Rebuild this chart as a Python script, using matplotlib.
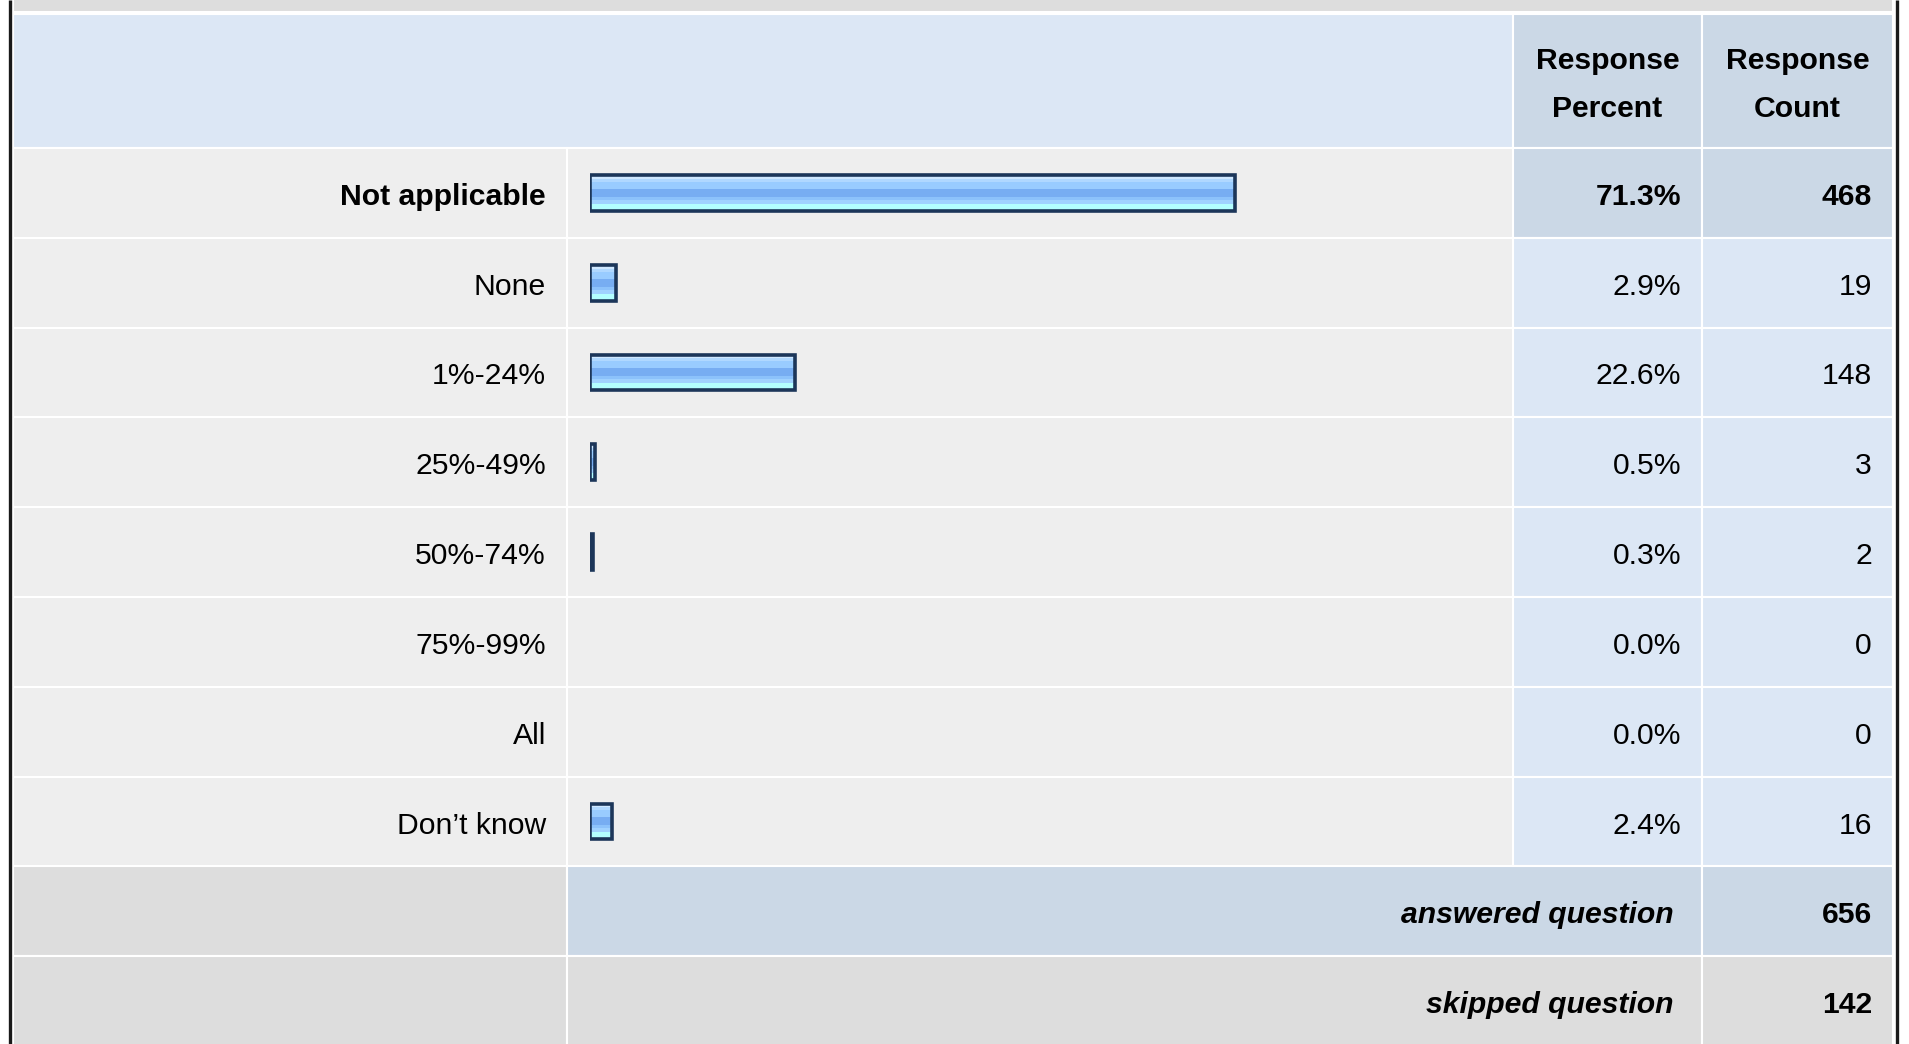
import matplotlib
matplotlib.use('Agg')
import matplotlib.pyplot as plt
from matplotlib.patches import Rectangle
from matplotlib.colors import to_rgb
import numpy as np

plt.rcParams['font.family'] = ['Liberation Sans', 'DejaVu Sans']

answer_options = ['Not applicable', 'None', '1%-24%', '25%-49%', '50%-74%',
                  '75%-99%', 'All', 'Don\u2019t know']
response_percent = [71.3, 2.9, 22.6, 0.5, 0.3, 0.0, 0.0, 2.4]
response_count = [468, 19, 148, 3, 2, 0, 0, 16]
answered_question = 656
skipped_question = 142

W, H = 1909, 1044
fig = plt.figure(figsize=(W / 100, H / 100), dpi=100)
ax = fig.add_axes([0, 0, 1, 1])
ax.set_xlim(0, W)
ax.set_ylim(H, 0)
ax.axis('off')

# table geometry in pixels
x_left, x_lab, x_pct, x_cnt, x_right = 13, 567, 1513, 1702, 1893
y_head, y_body, row_h = 14, 148, 89.8
n = len(answer_options)

c_head = '#dce7f5'
c_dark = '#cbd8e6'
c_cell = '#eeeeee'
c_gray = '#dddddd'
fs = 21.7
dy = 4


def cell(x0, x1, y0, y1, color):
    ax.add_patch(Rectangle((x0, y0), x1 - x0, y1 - y0, facecolor=color,
                           edgecolor='white', lw=1.5))


# top strip and header
cell(x_left, x_right, -10, 12, c_gray)
cell(x_left, x_pct, y_head, y_body, c_head)
cell(x_pct, x_cnt, y_head, y_body, c_dark)
cell(x_cnt, x_right, y_head, y_body, c_dark)
ax.text((x_pct + x_cnt) / 2, (y_head + y_body) / 2 + 4, 'Response\nPercent',
        ha='center', va='center', fontsize=fs, fontweight='bold', linespacing=1.9)
ax.text((x_cnt + x_right) / 2, (y_head + y_body) / 2 + 4, 'Response\nCount',
        ha='center', va='center', fontsize=fs, fontweight='bold', linespacing=1.9)

top_idx = int(np.argmax(response_percent))
for i, (lab, p, c) in enumerate(zip(answer_options, response_percent, response_count)):
    y0 = y_body + i * row_h
    y1 = y0 + row_h
    yc = (y0 + y1) / 2 + dy
    side = c_dark if i == top_idx else c_head
    fw = 'bold' if i == top_idx else 'normal'
    cell(x_left, x_lab, y0, y1, c_cell)
    cell(x_lab, x_pct, y0, y1, c_cell)
    cell(x_pct, x_cnt, y0, y1, side)
    cell(x_cnt, x_right, y0, y1, side)
    ax.text(546, yc, lab, ha='right', va='center', fontsize=fs, fontweight=fw)
    ax.text(1681, yc, '%.1f%%' % p, ha='right', va='center', fontsize=fs, fontweight=fw)
    ax.text(1872, yc, str(c), ha='right', va='center', fontsize=fs, fontweight=fw)

# summary rows
y0 = y_body + n * row_h
cell(x_left, x_lab, y0, y0 + row_h, c_gray)
cell(x_lab, x_cnt, y0, y0 + row_h, c_dark)
cell(x_cnt, x_right, y0, y0 + row_h, c_dark)
ax.text(1674, y0 + row_h / 2 + dy, 'answered question', ha='right', va='center',
        fontsize=fs, fontweight='bold', style='italic')
ax.text(1872, y0 + row_h / 2 + dy, str(answered_question), ha='right', va='center',
        fontsize=fs, fontweight='bold')
y0 += row_h
cell(x_left, x_lab, y0, y0 + row_h + 20, c_gray)
cell(x_lab, x_cnt, y0, y0 + row_h + 20, c_gray)
cell(x_cnt, x_right, y0, y0 + row_h + 20, c_gray)
ax.text(1674, y0 + row_h / 2 + dy, 'skipped question', ha='right', va='center',
        fontsize=fs, fontweight='bold', style='italic')
ax.text(1872, y0 + row_h / 2 + dy, str(skipped_question), ha='right', va='center',
        fontsize=fs, fontweight='bold')

# outer borders
ax.vlines([9.5, 1896.5], 0, H, color='#1a1a1a', lw=2.4)

# bars, 0-100 % across the bar column
bx = fig.add_axes([590 / W, 1 - (y_body + n * row_h) / H, 905 / W, n * row_h / H])
bx.patch.set_alpha(0)
bx.axis('off')
stripes = ['#cfe8ff', '#b0d8ff', '#99ccff', '#99ccff', '#77adf2', '#77adf2',
           '#8cc2fb', '#a0d2ff', '#b3ffff', '#b3ffff']
grad = np.array([to_rgb(s) for s in stripes])[:, None, :]
bh = 0.4
for i, p in enumerate(response_percent):
    if p <= 0:
        continue
    bx.imshow(grad, extent=(0, p, i + bh / 2, i - bh / 2), aspect='auto',
              interpolation='nearest', zorder=1)
    bx.barh(i, p, height=bh, facecolor='none', edgecolor='#1c3659', lw=2.6,
            zorder=2)
bx.set_xlim(0, 100)
bx.set_ylim(n - 0.5, -0.5)

fig.savefig('out.png', dpi=100)
